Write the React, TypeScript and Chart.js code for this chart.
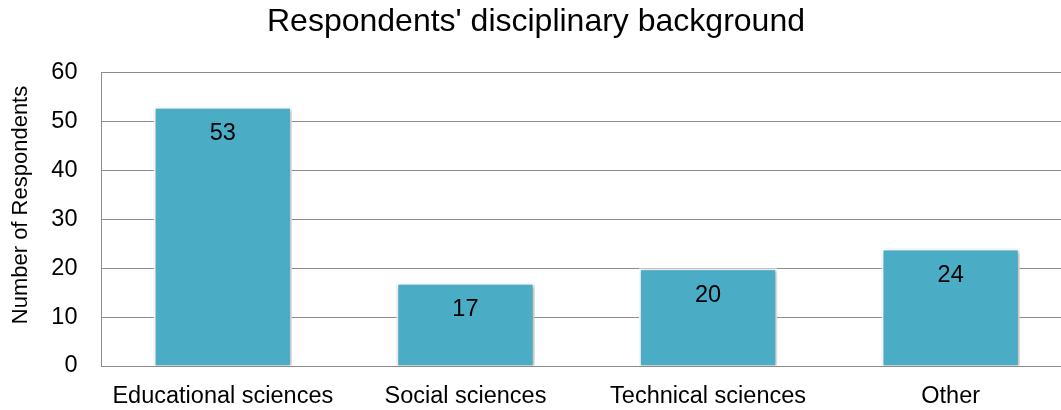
import React, { useEffect, useRef } from "react";
import { Chart, registerables } from "chart.js";

Chart.register(...registerables);

const categories = ["Educational sciences", "Social sciences", "Technical sciences", "Other"];
const respondents = [53, 17, 20, 24];
const yTicks = [0, 10, 20, 30, 40, 50, 60];
const yTitle = "Number of Respondents";

const FONT = "'Liberation Sans', Arial, sans-serif";

const barShadow = {
  id: "barShadow",
  beforeDatasetsDraw(chart: any) {
    const ctx = chart.ctx;
    ctx.save();
    ctx.shadowColor = "rgba(0,0,0,0.35)";
    ctx.shadowBlur = 4;
    ctx.shadowOffsetX = 1;
    ctx.shadowOffsetY = 1;
  },
  afterDatasetsDraw(chart: any) {
    chart.ctx.restore();
  },
};

const dataLabels = {
  id: "dataLabels",
  afterDatasetsDraw(chart: any) {
    const ctx = chart.ctx;
    const meta = chart.getDatasetMeta(0);
    ctx.save();
    ctx.fillStyle = "#000";
    ctx.font = `23.5px ${FONT}`;
    ctx.textAlign = "center";
    ctx.textBaseline = "middle";
    meta.data.forEach((bar: any, i: number) => {
      ctx.fillText(String(respondents[i]), bar.x, bar.y + 27);
    });
    ctx.restore();
  },
};

const yAxisTitle = {
  id: "yAxisTitle",
  afterDraw(chart: any) {
    const ctx = chart.ctx;
    ctx.save();
    ctx.translate(21, chart.height / 2);
    ctx.rotate(-Math.PI / 2);
    ctx.fillStyle = "#000";
    ctx.font = `22px ${FONT}`;
    ctx.textAlign = "center";
    ctx.textBaseline = "middle";
    ctx.fillText(yTitle, 0, 0);
    ctx.restore();
  },
};

export default function App() {
  const ref = useRef<HTMLCanvasElement>(null);
  useEffect(() => {
    document.body.style.margin = "0";
    document.body.style.overflow = "hidden";
    const chart = new Chart(ref.current!, {
      type: "bar",
      data: {
        labels: categories,
        datasets: [
          {
            data: respondents,
            backgroundColor: "#4BACC6",
            borderColor: "#ffffff",
            borderWidth: 2,
            barPercentage: 0.57,
            categoryPercentage: 1,
          },
        ],
      },
      options: {
        animation: false,
        responsive: false,
        maintainAspectRatio: false,
        layout: { padding: 0 },
        plugins: {
          legend: { display: false },
          tooltip: { enabled: false },
          title: {
            display: true,
            text: "Respondents' disciplinary background",
            color: "#000",
            font: { family: FONT, size: 32, weight: "normal" },
            padding: { top: 3, bottom: 31 },
          },
        },
        scales: {
          x: {
            grid: { display: false, drawTicks: false },
            border: { color: "#8c8c8c", width: 1 },
            ticks: { color: "#000", font: { family: FONT, size: 23.5 }, padding: 16 },
            afterFit(scale: any) {
              scale.height = 44;
            },
          },
          y: {
            min: 0,
            max: 60,
            afterBuildTicks(scale: any) {
              scale.ticks = yTicks.map((v) => ({ value: v }));
            },
            grid: { color: "#8c8c8c", lineWidth: 1, drawTicks: false },
            border: { color: "#8c8c8c", width: 1 },
            ticks: { color: "#000", font: { family: FONT, size: 23.5 }, padding: 24 },
            afterFit(scale: any) {
              scale.width = 101.5;
            },
          },
        },
      },
      plugins: [barShadow, dataLabels, yAxisTitle],
    } as any);
    return () => chart.destroy();
  }, []);
  return (
    <div style={{ width: 1061, height: 410, overflow: "hidden" }}>
      <canvas ref={ref} width={1072} height={410} style={{ display: "block" }} />
    </div>
  );
}
